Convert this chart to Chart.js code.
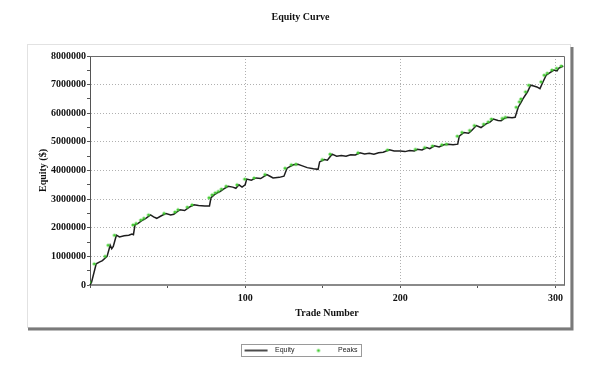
<!DOCTYPE html>
<html>
<head>
<meta charset="utf-8">
<script src="https://cdn.jsdelivr.net/npm/chart.js@4"></script>
<style>
  html, body { margin: 0; padding: 0; background: #ffffff; }
  #wrap { width: 598px; height: 384px; position: relative; }
</style>
</head>
<body>
<div id="wrap"><canvas id="c" width="598" height="384"></canvas></div>
<script>
// ---- data ----
const chartTitle = "Equity Curve";
const xAxisTitle = "Trade Number";
const yAxisTitle = "Equity ($)";
const seriesNames = ["Equity", "Peaks"];

const tradeNumbers = [0,1,4,6,8,10,11,13,14,15,17,19,22,25,27,28,29,31,34,36,39,41,43,46,49,52,54,56,58,61,64,67,70,74,77,78,80,82,84,86,89,92,94,96,98,100,101,104,107,110,114,116,118,122,125,127,131,134,136,140,144,147,148,151,153,156,159,162,165,168,171,174,177,180,183,186,189,193,196,200,203,206,209,211,214,217,219,222,225,228,231,234,237,238,241,244,246,249,252,255,258,260,263,265,267,269,272,274,276,278,279,282,284,286,288,290,292,294,296,299,301,302,305];
const equityValues = [0,100000,740000,800000,850000,950000,1000000,1390000,1270000,1350000,1740000,1680000,1720000,1740000,1780000,1760000,2100000,2150000,2270000,2330000,2450000,2380000,2330000,2420000,2500000,2450000,2470000,2550000,2630000,2600000,2720000,2800000,2780000,2760000,2760000,3050000,3150000,3220000,3270000,3350000,3450000,3420000,3380000,3500000,3420000,3500000,3700000,3660000,3740000,3720000,3860000,3800000,3740000,3760000,3800000,4080000,4200000,4220000,4180000,4100000,4060000,4040000,4300000,4380000,4360000,4570000,4500000,4520000,4500000,4550000,4540000,4620000,4580000,4600000,4570000,4620000,4640000,4720000,4680000,4680000,4660000,4700000,4680000,4740000,4720000,4800000,4760000,4860000,4820000,4900000,4920000,4900000,4920000,5200000,5330000,5300000,5400000,5570000,5500000,5620000,5700000,5800000,5750000,5740000,5820000,5860000,5840000,5860000,6210000,6400000,6500000,6750000,6980000,6950000,6920000,6860000,7100000,7330000,7400000,7510000,7480000,7570000,7650000];

const peakTrades = [1,4,11,13,17,29,31,34,36,39,49,56,58,64,67,78,80,82,84,86,89,96,101,107,114,127,131,134,151,156,174,193,211,217,222,228,231,238,241,246,249,255,258,260,267,269,276,278,279,282,284,292,294,296,299,302,305];
const peakValues = [100000,740000,1000000,1390000,1740000,2100000,2150000,2270000,2330000,2450000,2500000,2550000,2630000,2720000,2800000,3050000,3150000,3220000,3270000,3350000,3450000,3500000,3700000,3740000,3860000,4080000,4200000,4220000,4380000,4570000,4620000,4720000,4740000,4800000,4860000,4900000,4920000,5200000,5330000,5400000,5570000,5620000,5700000,5800000,5820000,5860000,6210000,6400000,6500000,6750000,6980000,7100000,7330000,7400000,7510000,7570000,7650000];

const yMin = 0, yMax = 8000000, yStep = 500000, yLabelStep = 1000000;
const xMin = 0, xMax = 305.5, xStep = 50, xLabelStep = 100;

// ---- build library structures ----
const equityPoints = tradeNumbers.map((t, i) => ({ x: t, y: equityValues[i] }));
const peakPoints = peakTrades.map((t, i) => ({ x: t, y: peakValues[i] }));

function legendSymbol(kind) {
  const c = document.createElement('canvas');
  c.width = 28; c.height = 8;
  const g = c.getContext('2d');
  if (kind === 'line') {
    g.strokeStyle = '#111'; g.lineWidth = 1.5;
    g.beginPath(); g.moveTo(1, 4); g.lineTo(24, 4); g.stroke();
  } else {
    g.fillStyle = '#44cc33';
    g.beginPath(); g.arc(12, 4, 1.6, 0, Math.PI * 2); g.fill();
  }
  return c;
}
const symLine = legendSymbol('line');
const symDot = legendSymbol('dot');

const serif = "'Liberation Serif', 'DejaVu Serif', serif";
const sans = "'Liberation Sans', 'DejaVu Sans', sans-serif";

const framePlugin = {
  id: 'frame',
  beforeDraw(chart) {
    const ctx = chart.ctx;
    ctx.save();
    ctx.fillStyle = '#ffffff';
    ctx.fillRect(0, 0, chart.width, chart.height);
    ctx.strokeStyle = '#e2e2e2'; ctx.lineWidth = 1;
    ctx.strokeRect(27.5, 44.5, 543, 283);
    ctx.strokeStyle = '#7a7a7a'; ctx.lineWidth = 3;
    ctx.beginPath();
    ctx.moveTo(572, 47); ctx.lineTo(572, 329); ctx.lineTo(28, 329);
    ctx.stroke();
    ctx.restore();
  },
  afterDatasetsDraw(chart) {
    const a = chart.chartArea, ctx = chart.ctx;
    ctx.save();
    ctx.strokeStyle = '#6a6a6a'; ctx.lineWidth = 1;
    ctx.beginPath();
    ctx.moveTo(a.left, a.top + 0.5); ctx.lineTo(a.right + 0.5, a.top + 0.5); ctx.lineTo(a.right + 0.5, a.bottom);
    ctx.stroke();
    ctx.restore();
  },
  afterDraw(chart) {
    const lg = chart.legend;
    if (!lg || !lg.legendHitBoxes || !lg.legendHitBoxes.length) return;
    const hb = lg.legendHitBoxes;
    let l = Infinity, r = -Infinity, t = Infinity, b = -Infinity;
    hb.forEach(h => { l = Math.min(l, h.left); r = Math.max(r, h.left + h.width); t = Math.min(t, h.top); b = Math.max(b, h.top + h.height); });
    const ctx = chart.ctx;
    ctx.save();
    ctx.strokeStyle = '#9a9a9a'; ctx.lineWidth = 1;
    ctx.strokeRect(Math.round(l - 3) + 0.5, Math.round(t - 3) + 0.5, Math.round(r - l + 6), Math.round(b - t + 5));
    ctx.restore();
  }
};

new Chart(document.getElementById('c'), {
  type: 'line',
  data: {
    datasets: [
      {
        label: seriesNames[1],
        data: peakPoints,
        showLine: false,
        pointRadius: 2.3,
        pointBackgroundColor: 'rgba(80,215,60,0.85)',
        pointBorderWidth: 0,
        pointStyle: symDot,
        order: 0
      },
      {
        label: seriesNames[0],
        data: equityPoints,
        borderColor: '#1e1e1e',
        borderWidth: 1.5,
        pointRadius: 0,
        tension: 0,
        pointStyle: symLine,
        order: 1
      }
    ]
  },
  options: {
    responsive: false,
    animation: false,
    devicePixelRatio: 1,
    layout: { padding: { left: 37, right: 34, top: 0, bottom: 20 } },
    plugins: {
      title: {
        display: true,
        text: chartTitle,
        color: '#111',
        font: { family: serif, size: 10, weight: 'bold' },
        padding: { top: 11, bottom: 33 }
      },
      legend: {
        display: true,
        position: 'bottom',
        reverse: true,
        labels: {
          usePointStyle: true,
          pointStyleWidth: 28,
          boxHeight: 7,
          padding: 12,
          color: '#222',
          font: { family: sans, size: 7 }
        }
      },
      tooltip: { enabled: false }
    },
    scales: {
      x: {
        type: 'linear',
        min: xMin, max: xMax,
        afterFit(s) { s.height = 50; },
        title: {
          display: true, text: xAxisTitle, color: '#111',
          font: { family: serif, size: 10, weight: 'bold' },
          padding: { top: 4, bottom: 16 }
        },
        ticks: {
          stepSize: xStep,
          includeBounds: false,
          autoSkip: false,
          maxRotation: 0,
          color: '#111',
          padding: 4,
          font: { family: serif, size: 10, weight: 'bold' },
          callback: (v) => (v > 0 && v % xLabelStep === 0) ? String(v) : ''
        },
        grid: {
          color: (c) => (c.tick && c.tick.value > 0 && c.tick.value % xLabelStep === 0) ? '#b0b0b0' : 'rgba(0,0,0,0)',
          tickColor: (c) => (c.tick && c.tick.value % xStep === 0) ? '#555' : 'rgba(0,0,0,0)',
          tickLength: 3,
          lineWidth: 1
        },
        border: { display: true, color: '#8a8a8a', width: 2, dash: [1, 2] }
      },
      y: {
        type: 'linear',
        min: yMin, max: yMax,
        afterFit(s) { s.width = 53; },
        title: {
          display: true, text: yAxisTitle, color: '#111',
          font: { family: serif, size: 10, weight: 'bold' },
          padding: { top: 0, bottom: 0 }
        },
        ticks: {
          stepSize: yStep,
          autoSkip: false,
          color: '#111',
          padding: 1,
          font: { family: serif, size: 10, weight: 'bold' },
          callback: (v) => (v % yLabelStep === 0) ? String(v) : ''
        },
        grid: {
          color: (c) => (c.tick && c.tick.value > 0 && c.tick.value % yLabelStep === 0) ? '#b0b0b0' : 'rgba(0,0,0,0)',
          tickColor: '#555',
          tickLength: 3,
          lineWidth: 1
        },
        border: { display: true, color: '#555', width: 1, dash: [1, 2] }
      }
    }
  },
  plugins: [framePlugin]
});
</script>
</body>
</html>
